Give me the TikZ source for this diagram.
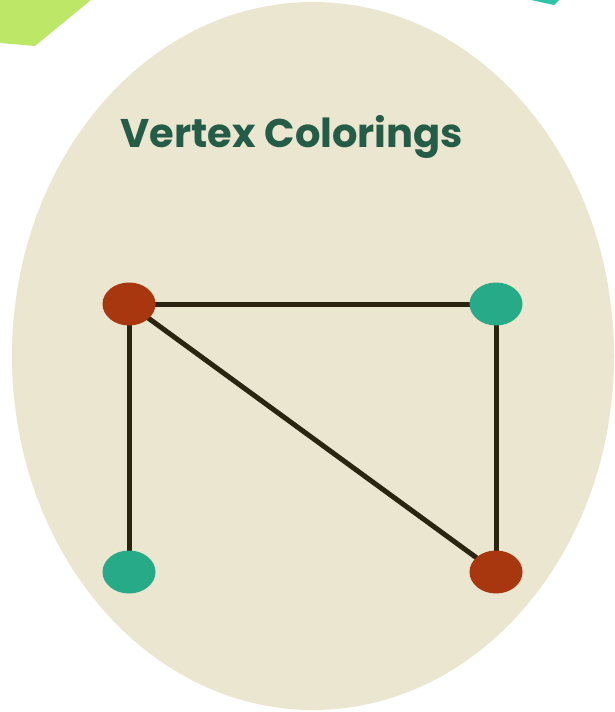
\documentclass[tikz,border=0pt]{standalone}
\usepackage{fontspec}
\setmainfont{Poppins}
\usetikzlibrary{shapes.geometric}
\definecolor{paper}{HTML}{EBE6D0}
\definecolor{titlegreen}{HTML}{255C47}
\definecolor{rust}{HTML}{A8360E}
\definecolor{teal}{HTML}{27AA87}
\definecolor{edgecol}{HTML}{2A2410}
\definecolor{lime}{HTML}{BDE867}
\definecolor{aqua}{HTML}{2EC4A8}
\tikzset{
  vert/.style={ellipse, minimum width=53pt, minimum height=43pt, inner sep=0pt, draw=none},
  redv/.style={vert, fill=rust},
  tealv/.style={vert, fill=teal},
  edge/.style={draw=edgecol, line width=5pt}
}
\begin{document}
\begin{tikzpicture}[x=1pt,y=-1pt]
\useasboundingbox (0,0) rectangle (614,712);
% corner decorations
\fill[lime] (0,0) -- (91,0) -- (35,46) -- (0,43) -- cycle;
\fill[aqua] (531,0) -- (559,0) -- (554,5) -- cycle;
% background ellipse
\fill[paper] (313,356) ellipse [x radius=301pt, y radius=354pt];
% title
\node[text=titlegreen, font=\fontsize{40}{48}\selectfont\bfseries] (title) at (292,137) {Vertex Colorings};
% vertex positions
\coordinate (pa) at (129,304);
\coordinate (pb) at (496,304);
\coordinate (pc) at (129,572);
\coordinate (pd) at (496,572);
% edges first, vertices on top
\draw[edge] (pa) -- (pb);
\draw[edge] (pa) -- (pc);
\draw[edge] (pa) -- (pd);
\draw[edge] (pb) -- (pd);
\node[redv] (a) at (pa) {};
\node[tealv] (b) at (pb) {};
\node[tealv] (c) at (pc) {};
\node[redv] (d) at (pd) {};
\end{tikzpicture}
\end{document}
